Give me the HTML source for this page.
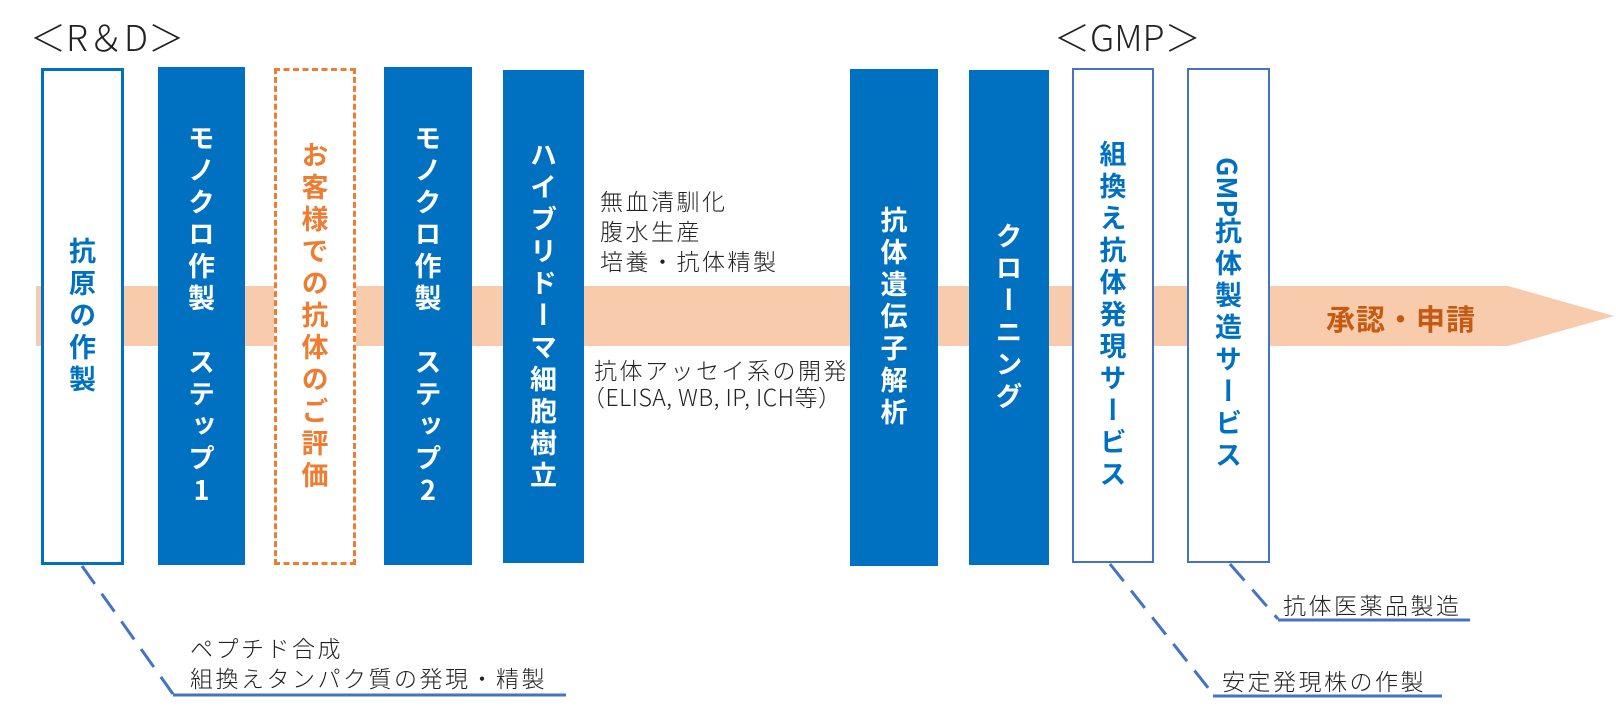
<!DOCTYPE html>
<html><head><meta charset="utf-8"><style>
html,body{margin:0;padding:0;background:#fff;}
body{width:1616px;height:711px;position:relative;overflow:hidden;font-family:"Liberation Sans","Noto Sans CJK JP",sans-serif;}
svg{position:absolute;left:0;top:0;}
.b{position:absolute;box-sizing:border-box;display:flex;align-items:center;justify-content:center;}
.v{writing-mode:vertical-rl;text-orientation:upright;font-family:"Noto Sans CJK JP",sans-serif;font-weight:bold;font-size:27px;letter-spacing:5px;line-height:1;}
.s{text-orientation:mixed;letter-spacing:0;}
.f{background:#0070C0;color:#fff;}
.t{position:absolute;font-family:"Noto Sans CJK JP",sans-serif;font-weight:300;color:#222;white-space:nowrap;font-size:23px;letter-spacing:2.5px;}
</style></head><body>
<svg width="1616" height="711">
<polygon points="36,286 1508,286 1614,316 1508,346 36,346" fill="#F8CBAD"/>
<g stroke="#4472C4" stroke-width="3" fill="none">
<line x1="82" y1="566" x2="173" y2="694" stroke-dasharray="22,12"/>
<line x1="173" y1="695" x2="566" y2="695"/>
<line x1="1110" y1="564" x2="1213" y2="694" stroke-dasharray="22,12"/>
<line x1="1213" y1="696" x2="1442" y2="696"/>
<line x1="1230" y1="564" x2="1278" y2="619" stroke-dasharray="22,12"/>
<line x1="1278" y1="620" x2="1470" y2="620"/>
</g>
</svg>
<div class="t" style="left:30px;top:10px;font-size:36px;letter-spacing:0;">＜R＆D＞</div>
<div class="t" style="left:1054px;top:10px;font-size:36px;letter-spacing:0;">＜GMP＞</div>

<div class="b" style="left:41px;top:68px;width:83px;height:497px;border:3px solid #0070C0;background:#fff;color:#0070C0;"><span class="v">抗原の作製</span></div>
<div class="b f" style="left:158px;top:67px;width:87px;height:498px;"><span class="v">モノクロ作製　ステップ1</span></div>
<div class="b" style="left:274px;top:68px;width:82px;height:497px;border:3px dashed #ED7D31;background:#fff;color:#ED7D31;"><span class="v">お客様での抗体のご評価</span></div>
<div class="b f" style="left:384px;top:67px;width:88px;height:498px;"><span class="v">モノクロ作製　ステップ2</span></div>
<div class="b f" style="left:503px;top:70px;width:81px;height:493px;"><span class="v">ハイブリドーマ細胞樹立</span></div>
<div class="b f" style="left:850px;top:69px;width:88px;height:497px;"><span class="v">抗体遺伝子解析</span></div>
<div class="b f" style="left:969px;top:70px;width:80px;height:495px;"><span class="v">クローニング</span></div>
<div class="b" style="left:1072px;top:68px;width:82px;height:495px;border:2.5px solid #4472C4;background:#fff;color:#0070C0;"><span class="v">組換え抗体発現サービス</span></div>
<div class="b" style="left:1187px;top:68px;width:83px;height:495px;border:2.5px solid #4472C4;background:#fff;color:#0070C0;"><span class="v"><span class="s">GMP</span>抗体製造サービス</span></div>

<div class="t" style="left:1326px;top:297px;font-size:29px;font-weight:bold;color:#C55A11;letter-spacing:1px;">承認・申請</div>

<div class="t" style="left:600px;top:185px;line-height:30px;">無血清馴化<br>腹水生産<br>培養・抗体精製</div>
<div class="t" style="left:594px;top:356px;line-height:27px;">抗体アッセイ系の開発<br><span style="margin-left:-12px;letter-spacing:0.5px;">（ELISA, WB, IP, ICH等）</span></div>

<div class="t" style="left:190px;top:632px;line-height:30px;">ペプチド合成<br>組換えタンパク質の発現・精製</div>
<div class="t" style="left:1222px;top:663px;">安定発現株の作製</div>
<div class="t" style="left:1283px;top:587px;">抗体医薬品製造</div>
</body></html>
